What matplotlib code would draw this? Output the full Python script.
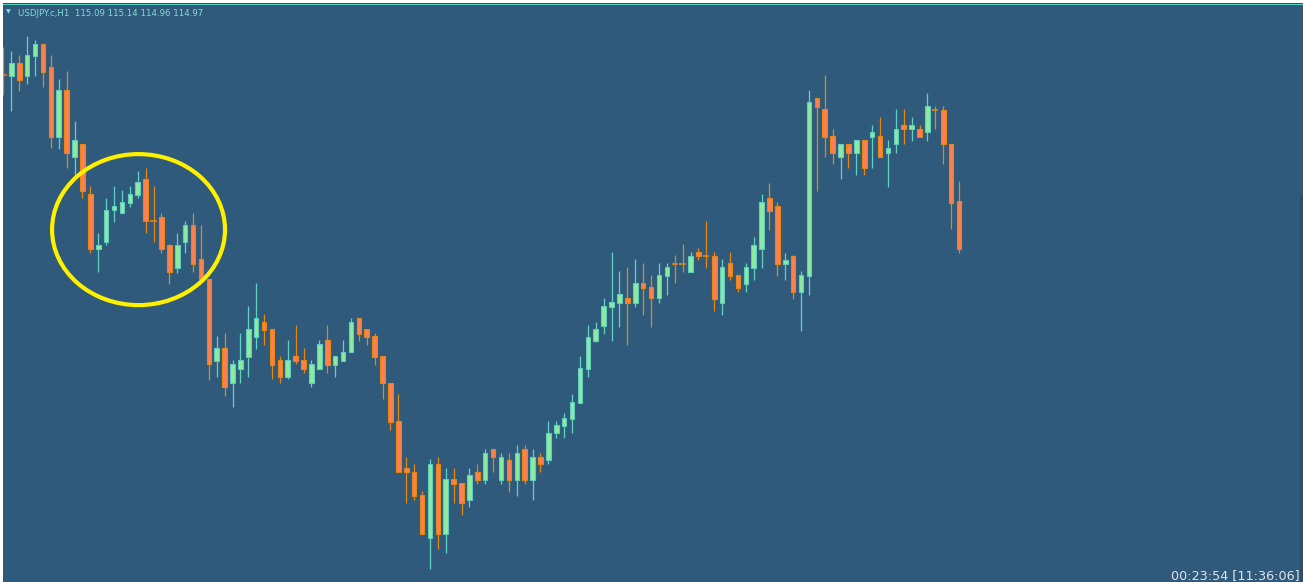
import matplotlib
matplotlib.use("Agg")
import matplotlib.pyplot as plt
from matplotlib.patches import Ellipse, Rectangle
import numpy as np

# USDJPY.c H1 candles (oldest -> newest)
opens = [
    115.406, 115.404, 115.436, 115.404, 115.454, 115.483, 115.426, 115.251, 115.368, 115.201,
    115.233, 115.108, 114.971, 114.989, 115.068, 115.061, 115.086, 115.106, 115.146, 115.041,
    115.051, 114.981, 114.922, 114.989, 115.031, 114.946, 114.896, 114.691, 114.723, 114.636,
    114.671, 114.701, 114.751, 114.789, 114.771, 114.693, 114.651, 114.703, 114.693, 114.636,
    114.671, 114.743, 114.681, 114.691, 114.713, 114.799, 114.771, 114.753, 114.703, 114.636,
    114.541, 114.424, 114.414, 114.356, 114.248, 114.433, 114.258, 114.396, 114.386, 114.343,
    114.414, 114.393, 114.471, 114.393, 114.443, 114.393, 114.471, 114.393, 114.451, 114.443,
    114.510, 114.529, 114.546, 114.586, 114.671, 114.741, 114.778, 114.826, 114.836, 114.848,
    114.836, 114.886, 114.876, 114.847, 114.904, 114.933, 114.933, 114.912, 114.962, 114.954,
    114.954, 114.836, 114.936, 114.906, 114.883, 114.922, 114.970, 115.097, 115.078, 114.933,
    114.954, 114.864, 114.904, 115.349, 115.320, 115.253, 115.201, 115.232, 115.211, 115.243,
    115.251, 115.253, 115.211, 115.232, 115.281, 115.270, 115.270, 115.262, 115.319, 115.319,
    115.232, 115.090]
highs = [
    115.476, 115.466, 115.456, 115.503, 115.493, 115.483, 115.456, 115.396, 115.416, 115.291,
    115.233, 115.128, 115.011, 115.098, 115.128, 115.118, 115.128, 115.166, 115.174, 115.128,
    115.061, 114.983, 115.011, 115.041, 115.061, 115.031, 114.896, 114.753, 114.761, 114.693,
    114.761, 114.828, 114.886, 114.808, 114.771, 114.703, 114.743, 114.781, 114.723, 114.693,
    114.743, 114.781, 114.703, 114.743, 114.799, 114.799, 114.771, 114.761, 114.703, 114.636,
    114.608, 114.451, 114.433, 114.366, 114.446, 114.451, 114.424, 114.424, 114.386, 114.424,
    114.433, 114.471, 114.471, 114.461, 114.461, 114.481, 114.481, 114.471, 114.461, 114.541,
    114.541, 114.561, 114.608, 114.703, 114.781, 114.789, 114.848, 114.963, 114.916, 114.926,
    114.946, 114.936, 114.906, 114.936, 114.936, 114.956, 114.982, 114.963, 114.973, 115.041,
    114.963, 114.946, 114.963, 114.906, 114.935, 115.001, 115.108, 115.136, 115.087, 114.961,
    114.955, 114.916, 115.368, 115.349, 115.406, 115.270, 115.232, 115.232, 115.243, 115.243,
    115.281, 115.300, 115.243, 115.320, 115.320, 115.300, 115.281, 115.360, 115.329, 115.329,
    115.232, 115.140]
lows = [
    115.356, 115.316, 115.366, 115.383, 115.404, 115.376, 115.223, 115.221, 115.173, 115.151,
    115.098, 114.961, 114.913, 114.981, 115.039, 115.061, 115.076, 115.098, 115.011, 114.989,
    114.961, 114.883, 114.911, 114.961, 114.914, 114.896, 114.643, 114.651, 114.603, 114.576,
    114.636, 114.651, 114.721, 114.731, 114.646, 114.636, 114.646, 114.683, 114.661, 114.626,
    114.671, 114.661, 114.651, 114.691, 114.713, 114.741, 114.731, 114.681, 114.596, 114.518,
    114.413, 114.336, 114.343, 114.258, 114.171, 114.221, 114.211, 114.336, 114.306, 114.326,
    114.383, 114.383, 114.413, 114.383, 114.364, 114.354, 114.383, 114.343, 114.413, 114.433,
    114.499, 114.499, 114.511, 114.586, 114.651, 114.739, 114.758, 114.741, 114.776, 114.731,
    114.826, 114.806, 114.776, 114.836, 114.856, 114.885, 114.912, 114.912, 114.943, 114.923,
    114.816, 114.806, 114.893, 114.864, 114.864, 114.893, 114.922, 115.018, 114.903, 114.893,
    114.846, 114.766, 114.856, 115.116, 115.201, 115.182, 115.145, 115.172, 115.156, 115.156,
    115.172, 115.201, 115.125, 115.211, 115.232, 115.241, 115.251, 115.241, 115.270, 115.182,
    115.020, 114.960]
closes = [
    115.406, 115.436, 115.394, 115.456, 115.483, 115.414, 115.251, 115.368, 115.211, 115.243,
    115.116, 114.971, 114.981, 115.068, 115.078, 115.088, 115.108, 115.138, 115.041, 115.041,
    114.971, 114.914, 114.981, 115.031, 114.933, 114.896, 114.683, 114.723, 114.626, 114.683,
    114.693, 114.771, 114.799, 114.768, 114.681, 114.651, 114.693, 114.691, 114.671, 114.683,
    114.733, 114.681, 114.703, 114.713, 114.789, 114.758, 114.751, 114.701, 114.635, 114.539,
    114.413, 114.413, 114.354, 114.258, 114.433, 114.258, 114.396, 114.383, 114.336, 114.406,
    114.393, 114.461, 114.450, 114.451, 114.393, 114.461, 114.393, 114.451, 114.433, 114.510,
    114.531, 114.548, 114.588, 114.673, 114.751, 114.771, 114.828, 114.838, 114.858, 114.836,
    114.886, 114.874, 114.847, 114.906, 114.926, 114.933, 114.933, 114.954, 114.953, 114.954,
    114.846, 114.926, 114.904, 114.874, 114.925, 114.981, 115.087, 115.066, 114.933, 114.943,
    114.864, 114.906, 115.339, 115.326, 115.251, 115.211, 115.232, 115.211, 115.243, 115.172,
    115.262, 115.201, 115.222, 115.270, 115.270, 115.281, 115.251, 115.329, 115.319, 115.232,
    115.086, 114.970]

symbol    = "USDJPY.c,H1"
countdown = "00:23:54 [11:36:06]"

# colours
bg        = "#2f5a7b"
up_fill   = "#8eeaa0"
up_edge   = "#5fcdbd"
up_wick   = "#5fd2c4"
dn_fill   = "#fd8050"
dn_edge   = "#e8850f"
dn_wick   = "#e8860f"

W, H = 1303, 582
fig = plt.figure(figsize=(W/100, H/100), dpi=100, facecolor="white")
ax  = fig.add_axes([3/W, 0, (W-3)/W, (H-5)/H])
ax.set_facecolor(bg)

o = np.array(opens); h = np.array(highs); l = np.array(lows); c = np.array(closes)
x = np.arange(len(o))
up  = c > o
dn  = c < o
doj = c == o

# wicks
ax.vlines(x[up], l[up], h[up], color=up_wick, lw=0.9, zorder=1)
ax.vlines(x[~up], l[~up], h[~up], color=dn_wick, lw=0.9, zorder=1)

# bodies
bw = 0.58
ax.bar(x[up], c[up]-o[up], bottom=o[up], width=bw, color=up_fill,
       edgecolor=up_edge, linewidth=0.8, zorder=2)
ax.bar(x[dn], o[dn]-c[dn], bottom=c[dn], width=bw, color=dn_fill,
       edgecolor=dn_edge, linewidth=0.8, zorder=2)
ax.hlines(o[doj], x[doj]-0.4, x[doj]+0.4, color=dn_edge, lw=1.2, zorder=2)

# highlight circle
ax.add_patch(Ellipse((17.1, 115.019), 21.9, 0.3775, fill=False,
                     edgecolor="#fff000", lw=3.0, zorder=5))

ax.set_xlim(-0.063, 164.56)
ax.set_ylim(114.138, 115.5805)
ax.set_xticks([]); ax.set_yticks([])
for s in ax.spines.values():
    s.set_visible(False)

# top border lines and right shadow
fig.add_artist(Rectangle((3/W, (H-4)/H), (W-3)/W, 1/H, transform=fig.transFigure,
                         color="#3c4a55", lw=0))
fig.add_artist(Rectangle((3/W, (H-5)/H), (W-3)/W, 1.2/H, transform=fig.transFigure,
                         color="#4fd6c4", lw=0))
fig.add_artist(Rectangle(((W-3)/W, 0), 3/W, (H-195)/H, transform=fig.transFigure,
                         color="#294f6c", lw=0))

# labels
fig.text(6/W, 1-13.5/H, "\u25BC", color="#86dcd2", fontsize=4.5, va="baseline")
fig.text(18/W, 1-15.5/H, symbol + "  115.09 115.14 114.96 114.97",
         color="#86dcd2", fontsize=6.2, va="baseline")
fig.text(1300/W, 1-579/H, countdown, color="#dfe3ea", fontsize=9.2,
         ha="right", va="baseline")

fig.savefig("out.png", dpi=100, facecolor=fig.get_facecolor())
